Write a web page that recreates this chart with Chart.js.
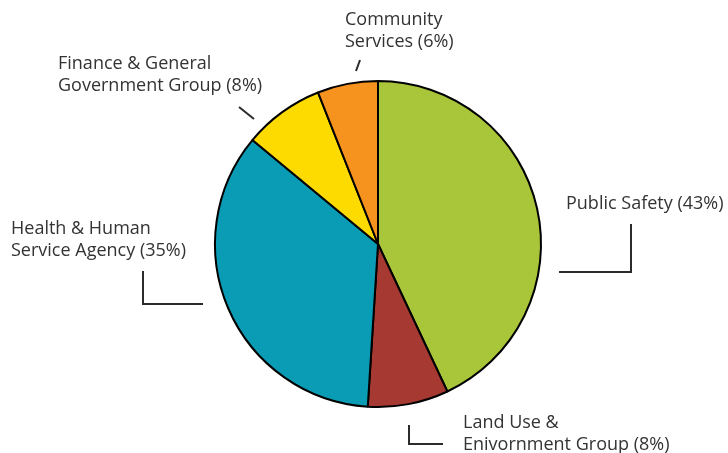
<!DOCTYPE html>
<html>
<head>
<meta charset="utf-8">
<script src="https://cdn.jsdelivr.net/npm/chart.js@4.4.1/dist/chart.umd.min.js"></script>
<style>
  html, body { margin: 0; padding: 0; background: #fff; }
  #wrap { width: 728px; height: 453px; }
</style>
</head>
<body>
<div id="wrap"><canvas id="grafico_pizza"></canvas></div>
<script>
const ctx = document.getElementById('grafico_pizza')

// dados
const labels = [
  'Public Safety',
  'Land Use & Enivornment Group',
  'Health & Human Service Agency',
  'Finance & General Government Group',
  'Community Services'
]
const values = [43, 8, 35, 8, 6]
const colors = ['#a9c63b', '#a63a33', '#0a9bb5', '#fddb00', '#f6921e']

// texto dos rótulos (quebrado em linhas) e posição relativa ao centro da pizza
const labelLines = [
  ['Public Safety (43%)'],
  ['Land Use &', 'Enivornment Group (8%)'],
  ['Health & Human', 'Service Agency (35%)'],
  ['Finance & General', 'Government Group (8%)'],
  ['Community', 'Services (6%)']
]
const labelPos = [[188, -40], [85, 179], [-367, -15], [-320, -180], [-33, -224]]
const leaders = [
  [[181, 28], [253, 28], [253, -20]],
  [[31, 181], [31, 200], [65, 200]],
  [[-235, 27], [-235, 60], [-175, 60]],
  [[-139, -137], [-124, -125]],
  [[-22, -173], [-18, -184]]
]

const calloutPlugin = {
  id: 'callouts',
  afterDraw(chart) {
    const arc = chart.getDatasetMeta(0).data[0]
    if (!arc) return
    const cx = arc.x, cy = arc.y
    const c = chart.ctx
    c.save()
    c.fillStyle = '#333'
    c.strokeStyle = '#2b2b2b'
    c.lineWidth = 2
    c.font = '18px "Open Sans", sans-serif'
    c.textAlign = 'left'
    c.textBaseline = 'middle'
    labelLines.forEach((lines, i) => {
      lines.forEach((t, k) => {
        c.fillText(t, cx + labelPos[i][0], cy + labelPos[i][1] + k * 22)
      })
      const pts = leaders[i]
      c.beginPath()
      c.moveTo(cx + pts[0][0], cy + pts[0][1])
      for (let k = 1; k < pts.length; k++) c.lineTo(cx + pts[k][0], cy + pts[k][1])
      c.stroke()
    })
    c.restore()
  }
}

const data = {
  labels,
  datasets: [{
    data: values,
    backgroundColor: colors,
    borderColor: '#000',
    borderWidth: 2
  }]
}

const config = {
  type: 'pie',
  data,
  options: {
    responsive: true,
    maintainAspectRatio: false,
    animation: false,
    layout: { padding: { top: 80, bottom: 45, left: 200, right: 172 } },
    plugins: {
      legend: { display: false },
      tooltip: { enabled: false }
    }
  },
  plugins: [calloutPlugin]
}

const graph = new Chart(ctx, config)
</script>
</body>
</html>
